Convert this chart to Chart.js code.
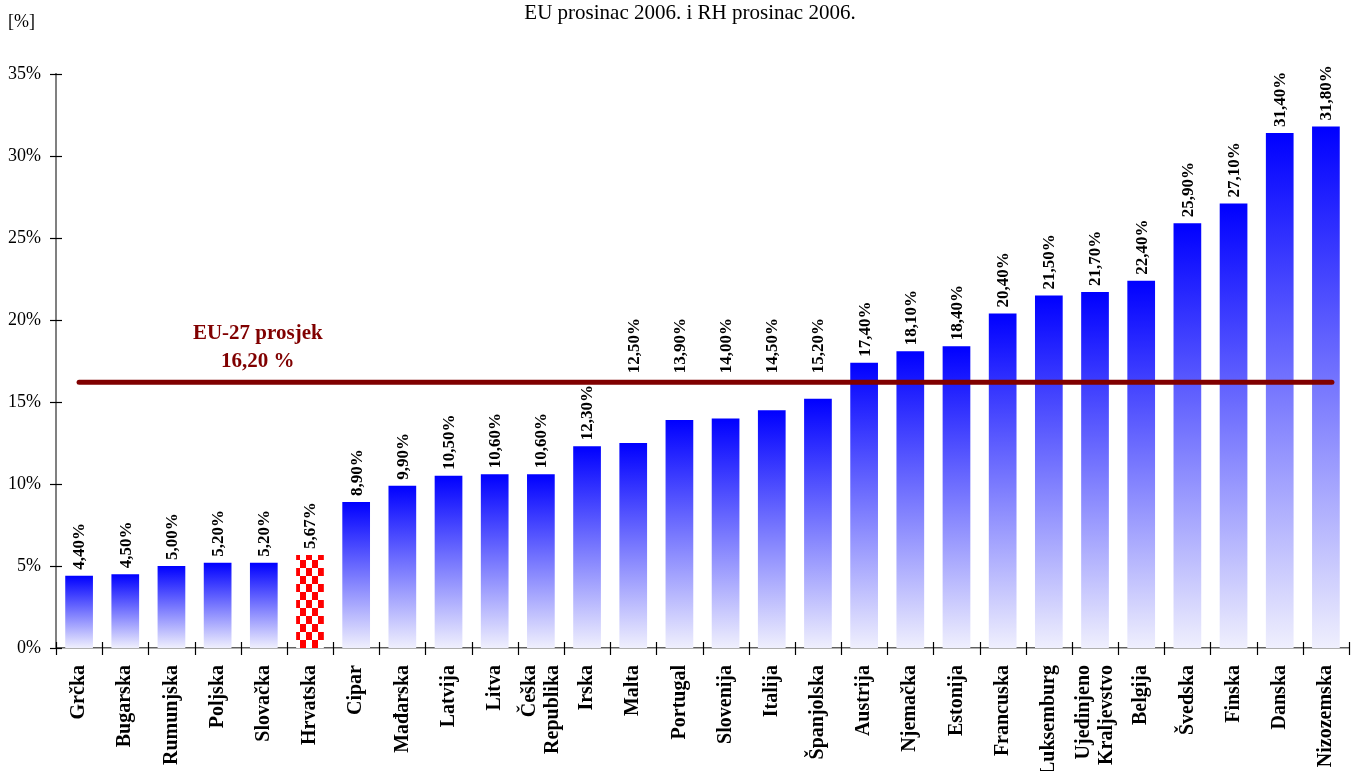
<!DOCTYPE html>
<html>
<head>
<meta charset="utf-8">
<script src="https://cdn.jsdelivr.net/npm/chart.js@4/dist/chart.umd.min.js"></script>
<style>
  html, body { margin:0; padding:0; background:#fff; }
  #wrap { width:1352px; height:771px; position:relative; }
</style>
</head>
<body>
<div id="wrap"><canvas id="c"></canvas></div>
<script>
// ── data ──
const countries = ['Grčka','Bugarska','Rumunjska','Poljska','Slovačka','Hrvatska','Cipar','Mađarska','Latvija','Litva',
  ['Češka','Republika'],'Irska','Malta','Portugal','Slovenija','Italija','Španjolska','Austrija','Njemačka','Estonija',
  'Francuska','Luksemburg',['Ujedinjeno','Kraljevstvo'],'Belgija','Švedska','Finska','Danska','Nizozemska'];
const values = [4.40,4.50,5.00,5.20,5.20,5.67,8.90,9.90,10.50,10.60,10.60,12.30,12.50,13.90,14.00,14.50,15.20,
  17.40,18.10,18.40,20.40,21.50,21.70,22.40,25.90,27.10,31.40,31.80];
const HIGHLIGHT = 'Hrvatska';
const EU_AVG = 16.20;
const avgLabel = ['EU-27 prosjek', '16,20 %'];
const yTicks = [0,5,10,15,20,25,30,35];
const title = 'EU prosinac 2006. i RH prosinac 2006.';
const unitLabel = '[%]';

const SERIF = "'Liberation Serif', 'Times New Roman', serif";
const fmt = v => v.toFixed(2).replace('.', ',') + '%';

// red/white checkerboard for Croatia
const pc = document.createElement('canvas');
pc.width = 12; pc.height = 16;
const pctx = pc.getContext('2d');
pctx.fillStyle = '#fff'; pctx.fillRect(0,0,12,16);
pctx.fillStyle = '#ff0000'; pctx.fillRect(0,0,6,8); pctx.fillRect(6,8,6,8);

function barFill(ctx) {
  const label = countries[ctx.dataIndex];
  if (label === HIGHLIGHT) return ctx.chart.ctx.createPattern(pc, 'repeat');
  const ys = ctx.chart.scales.y;
  if (!ys || !ctx.chart.chartArea) return '#0000ff';
  const top = ys.getPixelForValue(ctx.raw), base = ys.getPixelForValue(0);
  const g = ctx.chart.ctx.createLinearGradient(0, top, 0, base);
  g.addColorStop(0, '#0000ff');
  g.addColorStop(1, '#efeffd');
  return g;
}

// crossing tick marks, category labels, average line, value labels, title
const decorPlugin = {
  id: 'decor',
  afterDatasetsDraw(chart) {
    const { ctx, scales: { x: xs, y: ys } } = chart;
    const n = countries.length;
    const left = xs.left, bottom = ys.bottom;

    // tick marks across the axes
    ctx.save();
    ctx.strokeStyle = '#000'; ctx.lineWidth = 1.2;
    yTicks.forEach(t => {
      const y = Math.round(ys.getPixelForValue(t)) + 0.5;
      ctx.beginPath(); ctx.moveTo(left - 6, y); ctx.lineTo(left + 6, y); ctx.stroke();
    });
    for (let i = 0; i <= n; i++) {
      const x = Math.round(xs.getPixelForValue(i - 0.5)) + 0.5;
      ctx.beginPath(); ctx.moveTo(x, bottom - 6); ctx.lineTo(x, bottom + 7); ctx.stroke();
    }
    ctx.restore();

    // category labels (rotated, multi-line blocks centred on the bar)
    ctx.save();
    ctx.fillStyle = '#000';
    ctx.font = 'bold 20px ' + SERIF;
    ctx.textAlign = 'right'; ctx.textBaseline = 'middle';
    countries.forEach((lab, i) => {
      const lines = Array.isArray(lab) ? lab : [lab];
      const cx = xs.getPixelForValue(i);
      lines.forEach((s, j) => {
        ctx.save();
        ctx.translate(cx + (j - (lines.length - 1) / 2) * 23, bottom + 17);
        ctx.rotate(-Math.PI / 2);
        ctx.fillText(s, 0, 0);
        ctx.restore();
      });
    });
    ctx.restore();

    // EU average line
    const lineY = ys.getPixelForValue(EU_AVG);
    ctx.save();
    ctx.strokeStyle = '#800000'; ctx.lineWidth = 5; ctx.lineCap = 'round';
    ctx.beginPath();
    ctx.moveTo(xs.getPixelForValue(0), lineY);
    ctx.lineTo(xs.getPixelForValue(n - 1) + 6, lineY);
    ctx.stroke();
    ctx.fillStyle = '#800000';
    ctx.font = 'bold 21px ' + SERIF;
    ctx.textAlign = 'center'; ctx.textBaseline = 'middle';
    const ax = xs.getPixelForValue(3.87);
    ctx.fillText(avgLabel[0], ax, lineY - 49);
    ctx.fillText(avgLabel[1], ax, lineY - 21);
    ctx.restore();

    // value labels, rotated
    ctx.save();
    ctx.fillStyle = '#000';
    ctx.font = 'bold 17px ' + SERIF;
    ctx.textAlign = 'left'; ctx.textBaseline = 'middle';
    values.forEach((v, i) => {
      const txt = fmt(v);
      const w = ctx.measureText(txt).width;
      let b = ys.getPixelForValue(v) - 6;
      // keep labels clear of the average line
      if (b > lineY - 3 && b - w < lineY + 1.5) b = lineY - 9;
      ctx.save();
      ctx.translate(xs.getPixelForValue(i) + 1, b);
      ctx.rotate(-Math.PI / 2);
      ctx.fillText(txt, 0, 0);
      ctx.restore();
    });
    ctx.restore();
  },
  afterDraw(chart) {
    const ctx = chart.ctx;
    ctx.save();
    ctx.fillStyle = '#000';
    ctx.textBaseline = 'middle';
    ctx.font = '21px ' + SERIF;
    ctx.textAlign = 'center';
    ctx.fillText(title, 690, 13);
    ctx.font = '18px ' + SERIF;
    ctx.textAlign = 'left';
    ctx.fillText(unitLabel, 8, 22);
    ctx.restore();
  }
};

new Chart(document.getElementById('c'), {
  type: 'bar',
  data: {
    labels: countries,
    datasets: [{
      data: values,
      backgroundColor: barFill,
      borderWidth: 0,
      barPercentage: 0.6,
      categoryPercentage: 1
    }]
  },
  options: {
    responsive: true,
    maintainAspectRatio: false,
    animation: false,
    layout: { padding: { top: 74, right: 3, left: 0, bottom: 0 } },
    plugins: { legend: { display: false }, tooltip: { enabled: false }, title: { display: false } },
    scales: {
      x: {
        grid: { display: false },
        border: { display: true, color: '#606060', width: 1.5 },
        ticks: { display: false },
        afterFit: s => { s.height = 123; }
      },
      y: {
        min: 0, max: 35,
        grid: { display: false, tickLength: 6 },
        border: { display: true, color: '#808080', width: 2 },
        ticks: {
          stepSize: 5, padding: 9, color: '#000',
          font: { family: SERIF, size: 18 },
          callback: v => v + '%'
        },
        afterFit: s => { s.width = 56; }
      }
    }
  },
  plugins: [decorPlugin]
});
</script>
</body>
</html>
